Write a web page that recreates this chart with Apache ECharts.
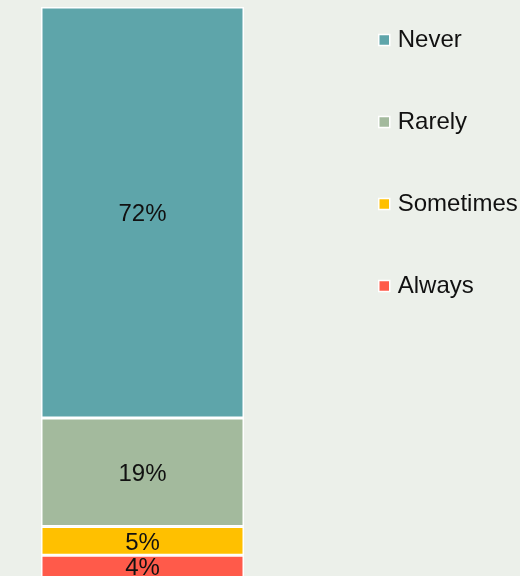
<!DOCTYPE html>
<html>
<head>
<meta charset="utf-8">
<script src="https://cdn.jsdelivr.net/npm/echarts@6/dist/echarts.min.js"></script>
<style>
  html, body { margin: 0; padding: 0; background: #ECF0EA; }
  #chart { width: 520px; height: 576px; }
</style>
</head>
<body>
<div id="chart"></div>
<script>
// Response categories, top of the stack first
const categories = ['Never', 'Rarely', 'Sometimes', 'Always'];
// Share of responses (%)
const shares = [72, 19, 5, 4];
const colors = ['#5EA5AA', '#A3BA9D', '#FFC000', '#FF5A4A'];

// Build stacked series bottom-up so 'Never' sits on top
const series = [];
for (let i = categories.length - 1; i >= 0; i--) {
  series.push({
    name: categories[i],
    type: 'bar',
    stack: 'total',
    barWidth: '100%',
    data: [shares[i]],
    itemStyle: { color: colors[i], borderColor: '#ffffff', borderWidth: 1.5 },
    label: {
      show: true,
      position: 'inside',
      offset: [0, 2],
      formatter: '{c}%',
      color: '#111111',
      fontFamily: 'Liberation Sans, Arial, sans-serif',
      fontSize: 24
    }
  });
}

const chart = echarts.init(document.getElementById('chart'));
chart.setOption({
  backgroundColor: '#ECF0EA',
  animation: false,
  // the bar runs slightly past the bottom edge of the canvas
  grid: { left: 41, top: 7, width: 203, height: 571, outerBoundsMode: 'none', containLabel: false },
  xAxis: { type: 'category', data: [''], show: false },
  yAxis: { type: 'value', min: 0, max: 100, show: false },
  legend: {
    orient: 'vertical',
    left: 373,
    top: 23,
    itemGap: 58,
    itemWidth: 11,
    itemHeight: 11,
    icon: 'rect',
    data: categories,
    itemStyle: { borderColor: '#ffffff', borderWidth: 1.5 },
    textStyle: {
      color: '#111111',
      fontFamily: 'Liberation Sans, Arial, sans-serif',
      fontSize: 24,
      padding: [0, 0, 0, 3]
    }
  },
  series: series
});
</script>
</body>
</html>
